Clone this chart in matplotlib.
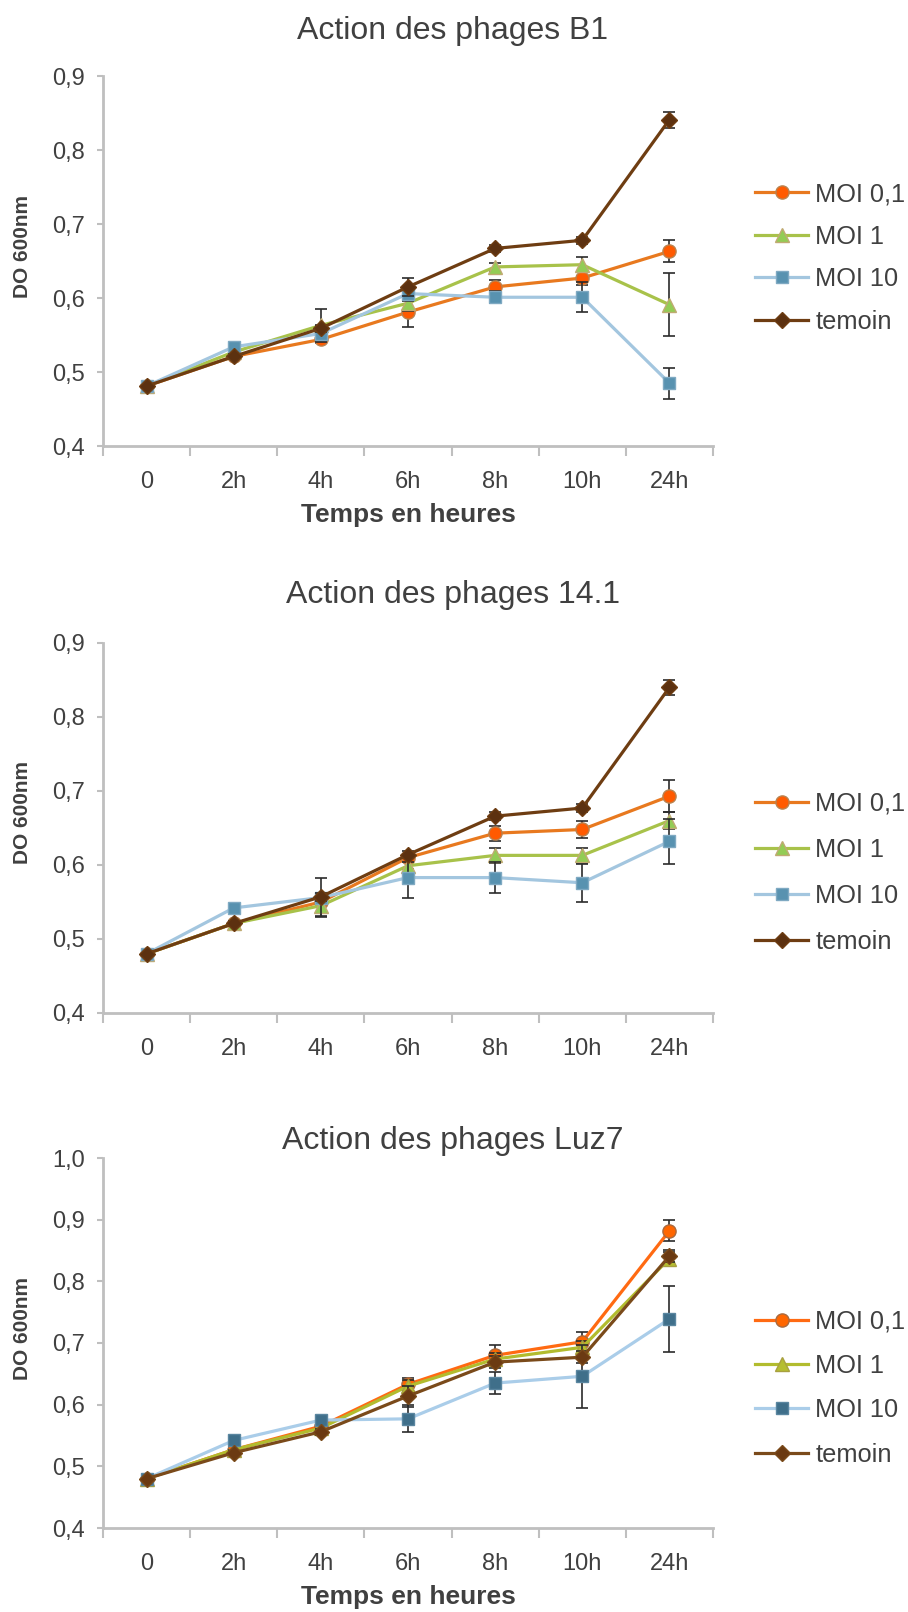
import matplotlib
matplotlib.use("Agg")
import matplotlib.pyplot as plt
from matplotlib.ticker import FixedLocator, FuncFormatter, NullFormatter

plt.rcParams['font.family'] = ['Liberation Sans', 'DejaVu Sans']

# ---------------- data ----------------
times = ["0", "2h", "4h", "6h", "8h", "10h", "24h"]
series_names = ["MOI 0,1", "MOI 1", "MOI 10", "temoin"]
titles = ["Action des phages B1", "Action des phages 14.1", "Action des phages Luz7"]

b1_moi01 = [0.481, 0.521, 0.544, 0.581, 0.615, 0.627, 0.663]
b1_moi1 = [0.481, 0.527, 0.563, 0.593, 0.642, 0.645, 0.591]
b1_moi10 = [0.481, 0.534, 0.552, 0.606, 0.601, 0.601, 0.485]
b1_temoin = [0.481, 0.521, 0.559, 0.615, 0.667, 0.678, 0.841]
b1_err_moi01 = [0, 0, 0.005, 0.020, 0.010, 0.010, 0.015]
b1_err_moi1 = [0, 0, 0.022, 0.010, 0.005, 0.010, 0.043]
b1_err_moi10 = [0, 0, 0.010, 0.010, 0.008, 0.020, 0.021]
b1_err_temoin = [0, 0.003, 0.005, 0.012, 0.005, 0.005, 0.011]

p14_moi01 = [0.480, 0.521, 0.550, 0.610, 0.643, 0.648, 0.693]
p14_moi1 = [0.480, 0.521, 0.545, 0.599, 0.613, 0.613, 0.660]
p14_moi10 = [0.480, 0.542, 0.556, 0.583, 0.583, 0.576, 0.632]
p14_temoin = [0.480, 0.521, 0.557, 0.614, 0.666, 0.677, 0.840]
p14_err_moi01 = [0, 0, 0.005, 0.005, 0.010, 0.012, 0.022]
p14_err_moi1 = [0, 0, 0.014, 0.005, 0.010, 0.010, 0.012]
p14_err_moi10 = [0, 0, 0.026, 0.027, 0.021, 0.026, 0.030]
p14_err_temoin = [0, 0.003, 0.005, 0.005, 0.005, 0.005, 0.010]

luz_moi01 = [0.480, 0.527, 0.565, 0.633, 0.680, 0.702, 0.882]
luz_moi1 = [0.480, 0.527, 0.562, 0.630, 0.674, 0.693, 0.837]
luz_moi10 = [0.480, 0.542, 0.575, 0.577, 0.635, 0.646, 0.739]
luz_temoin = [0.480, 0.522, 0.556, 0.614, 0.669, 0.677, 0.841]
luz_err_moi01 = [0, 0, 0.005, 0.010, 0.016, 0.016, 0.017]
luz_err_moi1 = [0, 0, 0.005, 0.010, 0.010, 0.010, 0.010]
luz_err_moi10 = [0, 0, 0.005, 0.022, 0.018, 0.051, 0.054]
luz_err_temoin = [0, 0.003, 0.005, 0.017, 0.010, 0.010, 0.010]

panels = [
    (titles[0], [b1_moi01, b1_moi1, b1_moi10, b1_temoin],
     [b1_err_moi01, b1_err_moi1, b1_err_moi10, b1_err_temoin], (0.4, 0.9)),
    (titles[1], [p14_moi01, p14_moi1, p14_moi10, p14_temoin],
     [p14_err_moi01, p14_err_moi1, p14_err_moi10, p14_err_temoin], (0.4, 0.9)),
    (titles[2], [luz_moi01, luz_moi1, luz_moi10, luz_temoin],
     [luz_err_moi01, luz_err_moi1, luz_err_moi10, luz_err_temoin], (0.4, 1.0)),
]

# ---------------- styles ----------------
W, H = 908, 1612
fig = plt.figure(figsize=(W / 100, H / 100), dpi=100)

markers = ['o', '^', 's', 'D']
msizes = [9.5, 10.5, 9, 8]
styles = [
    [('#E8791F', '#FF5A00', '#B98350'), ('#A8C24A', '#93CC55', '#C0AA72'),
     ('#A3C6DF', '#5892B0', '#7FA9C2'), ('#6E3D12', '#5C3110', '#6E3D12')],
    [('#E8791F', '#FF5A00', '#B98350'), ('#A8C24A', '#93CC55', '#C0AA72'),
     ('#A3C6DF', '#5892B0', '#7FA9C2'), ('#6E3D12', '#5C3110', '#6E3D12')],
    [('#FF6A12', '#FF6600', '#A86A40'), ('#B2BC2E', '#B5BE30', '#A8A040'),
     ('#AACDE9', '#3F6F8A', '#5A86A0'), ('#7A4A1A', '#6B3A12', '#7A4A1A')],
]

AX_L, AX_R = 103, 713
axes_px = [(76, 446), (643, 1013), (1158, 1528)]
title_pos = [(453, 31), (453, 595), (453, 1141)]
ylabel_y = [246, 813, 1329]
legend_rows = [(194, 322), (804, 942), (1322, 1454)]
xlabel_y = [515, None, 1597]
label_spacing = [0.73, 0.87, 0.80]

text_color = '#404040'
x = list(range(len(times)))

for i, (title, ys, errs, ylim) in enumerate(panels):
    top, bot = axes_px[i]
    ax = fig.add_axes([AX_L / W, 1 - bot / H, (AX_R - AX_L) / W, (bot - top) / H])
    for j, name in enumerate(series_names):
        lc, mf, me = styles[i][j]
        ax.plot(x, ys[j], color=lc, lw=2.3, marker=markers[j], ms=msizes[j],
                mfc=mf, mec=me, mew=1.0, label=name, zorder=3 + j)
        ax.errorbar(x, ys[j], yerr=errs[j], fmt='none', ecolor='#2b2b2b',
                    elinewidth=1.2, capsize=4.6, capthick=1.2, zorder=2 + j)
    ax.set_xlim(-0.5, len(times) - 0.5)
    ax.set_ylim(*ylim)
    yt = [round(ylim[0] + 0.1 * k, 1) for k in range(int(round((ylim[1] - ylim[0]) / 0.1)) + 1)]
    ax.set_yticks(yt)
    ax.yaxis.set_major_formatter(FuncFormatter(lambda v, p: f"{v:.1f}".replace('.', ',')))
    ax.set_xticks(x)
    ax.set_xticklabels(times)
    ax.xaxis.set_minor_locator(FixedLocator([k - 0.5 for k in range(len(times) + 1)]))
    ax.xaxis.set_minor_formatter(NullFormatter())
    ax.tick_params(axis='x', which='major', length=0, pad=18, labelsize=17, labelcolor=text_color)
    ax.tick_params(axis='x', which='minor', length=7, width=1.5, color='#BFBFBF', direction='out')
    ax.tick_params(axis='y', length=4, width=1.5, color='#BFBFBF', pad=9,
                   labelsize=17, labelcolor=text_color)
    for s in ['top', 'right']:
        ax.spines[s].set_visible(False)
    for s in ['left', 'bottom']:
        ax.spines[s].set_color('#BFBFBF')
        ax.spines[s].set_linewidth(2)

    fig.text(22.5 / W, 1 - ylabel_y[i] / H, "DO 600nm", rotation=90, ha='center', va='center',
             fontsize=15, fontweight='bold', color=text_color)
    tx, ty = title_pos[i]
    fig.text(tx / W, 1 - ty / H, title, ha='center', va='center', fontsize=23, color=text_color)
    if xlabel_y[i] is not None:
        fig.text((AX_L + AX_R) / 2 / W, 1 - xlabel_y[i] / H, "Temps en heures", ha='center',
                 va='center', fontsize=19, fontweight='bold', color=text_color)

    r0, r1 = legend_rows[i]
    leg = ax.legend(loc='center left', bbox_to_anchor=(755 / W, 1 - (r0 + r1) / 2 / H),
                    bbox_transform=fig.transFigure, frameon=False, fontsize=18.3,
                    borderpad=0, borderaxespad=0, handlelength=2.09, handletextpad=0.28,
                    labelspacing=label_spacing[i], numpoints=1)
    for t in leg.get_texts():
        t.set_color(text_color)

fig.savefig("out.png", dpi=100)
